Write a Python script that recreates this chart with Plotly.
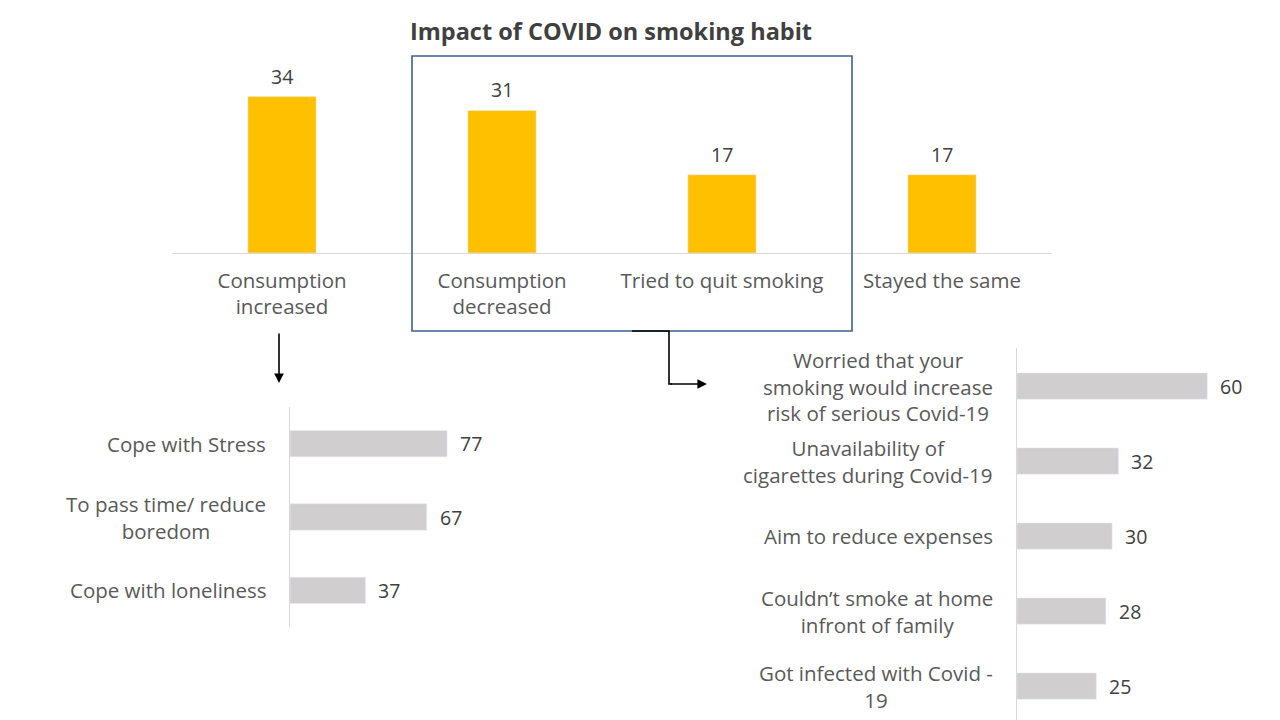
import plotly.graph_objects as go

# The page body adds an 8px margin, so the figure is drawn 8px smaller and all
# screen positions are converted through px()/py().
OFF = 8
W, H = 1280 - OFF, 720 - OFF

# ---- data ----
top_categories = ["Consumption<br>increased", "Consumption<br>decreased",
                  "Tried to quit smoking", "Stayed the same"]
top_values = [34, 31, 17, 17]

left_categories = ["Cope with Stress", "To pass time/ reduce<br>boredom", "Cope with loneliness"]
left_values = [77, 67, 37]

right_categories = ["Worried that your<br>smoking would increase<br>risk of serious Covid-19",
                    "Unavailability of<br>cigarettes during Covid-19",
                    "Aim to reduce expenses",
                    "Couldn\u2019t smoke at home<br>infront of family",
                    "Got infected with Covid -<br>19"]
right_values = [60, 32, 30, 28, 25]

TITLE = "Impact of COVID on smoking habit"

FONT = "Open Sans"
GRAY_TXT = "#595959"
VAL_TXT = "#404040"
AXIS_LINE = "#d9d9d9"
LBL_SIZE = 20.5
VAL_SIZE = 19.5


def px(x):
    return (x - OFF) / W


def py(y):
    return 1 - (y - OFF) / H


fig = go.Figure()

fig.add_trace(go.Bar(x=top_categories, y=top_values, marker_color="#FFC000",
                     xaxis="x", yaxis="y", hoverinfo="skip"))
fig.add_trace(go.Bar(x=left_values, y=left_categories, orientation="h", width=0.36,
                     marker_color="#D0CECE", xaxis="x2", yaxis="y2", hoverinfo="skip"))
fig.add_trace(go.Bar(x=right_values, y=right_categories, orientation="h", width=0.35,
                     marker_color="#D0CECE", xaxis="x3", yaxis="y3", hoverinfo="skip"))

annotations = []
# value labels top
for c, v in zip(top_categories, top_values):
    annotations.append(dict(x=c, y=v, xref="x", yref="y", text=str(v), showarrow=False,
                            yanchor="bottom", yshift=5,
                            font=dict(family=FONT, size=VAL_SIZE, color=VAL_TXT)))
# left chart
for c, v in zip(left_categories, left_values):
    annotations.append(dict(x=v, y=c, xref="x2", yref="y2", text=str(v), showarrow=False,
                            xanchor="left", xshift=11,
                            font=dict(family=FONT, size=VAL_SIZE, color=VAL_TXT)))
    annotations.append(dict(x=0, y=c, xref="x2 domain", yref="y2", text=c, showarrow=False,
                            xanchor="right", xshift=-22, align="center",
                            font=dict(family=FONT, size=LBL_SIZE, color=GRAY_TXT)))
# right chart
for c, v in zip(right_categories, right_values):
    annotations.append(dict(x=v, y=c, xref="x3", yref="y3", text=str(v), showarrow=False,
                            xanchor="left", xshift=11,
                            font=dict(family=FONT, size=VAL_SIZE, color=VAL_TXT)))
    annotations.append(dict(x=0, y=c, xref="x3 domain", yref="y3", text=c, showarrow=False,
                            xanchor="right", xshift=-22, align="center",
                            font=dict(family=FONT, size=LBL_SIZE, color=GRAY_TXT)))

# arrows
annotations.append(dict(x=px(279), y=py(383), xref="paper", yref="paper",
                        ax=0, ay=-51, text="",
                        showarrow=True, arrowhead=2, arrowsize=1.2, arrowwidth=1.6,
                        arrowcolor="#000000"))
annotations.append(dict(x=px(707), y=py(384), xref="paper", yref="paper",
                        ax=-38, ay=0, text="",
                        showarrow=True, arrowhead=2, arrowsize=1.2, arrowwidth=1.6,
                        arrowcolor="#000000"))

shapes = [
    dict(type="rect", xref="paper", yref="paper",
         x0=px(412), x1=px(852), y0=py(331), y1=py(56),
         line=dict(color="#3F5F95", width=1.6)),
    dict(type="path", xref="paper", yref="paper",
         path=f"M {px(632)},{py(331)} L {px(669)},{py(331)} L {px(669)},{py(384)} L {px(672)},{py(384)}",
         line=dict(color="#000000", width=1.6)),
]

fig.update_layout(
    width=W, height=H,
    margin=dict(l=0, r=0, t=0, b=0),
    paper_bgcolor="white", plot_bgcolor="white",
    showlegend=False,
    bargap=0.69,
    font=dict(family=FONT, color=GRAY_TXT),
    title=dict(text=f"<b>{TITLE}</b>", x=px(611), y=py(32), xanchor="center", yanchor="middle",
               font=dict(family=FONT, size=23.5, color="#404040")),
    xaxis=dict(domain=[px(172), px(1052)], showline=True, linecolor=AXIS_LINE, linewidth=1.2,
               showgrid=False, zeroline=False, ticks="", ticklabelstandoff=9,
               tickfont=dict(family=FONT, size=LBL_SIZE, color=GRAY_TXT), fixedrange=True),
    yaxis=dict(domain=[py(253), py(69)], range=[0, 40], visible=False, fixedrange=True),
    xaxis2=dict(domain=[px(290), px(494)], range=[0, 100], visible=False, anchor="y2"),
    yaxis2=dict(domain=[py(627), py(407)], anchor="x2", autorange="reversed",
                showline=True, linecolor=AXIS_LINE, linewidth=1.2, showticklabels=False,
                showgrid=False, zeroline=False, ticks=""),
    xaxis3=dict(domain=[px(1017), px(1239)], range=[0, 70], visible=False, anchor="y3"),
    yaxis3=dict(domain=[0, py(348)], anchor="x3", range=[4.453, -0.507], type="category",
                categoryorder="array", categoryarray=right_categories,
                showline=True, linecolor=AXIS_LINE, linewidth=1.2, showticklabels=False,
                showgrid=False, zeroline=False, ticks=""),
    annotations=annotations,
    shapes=shapes,
)

fig.write_html("out.html")
